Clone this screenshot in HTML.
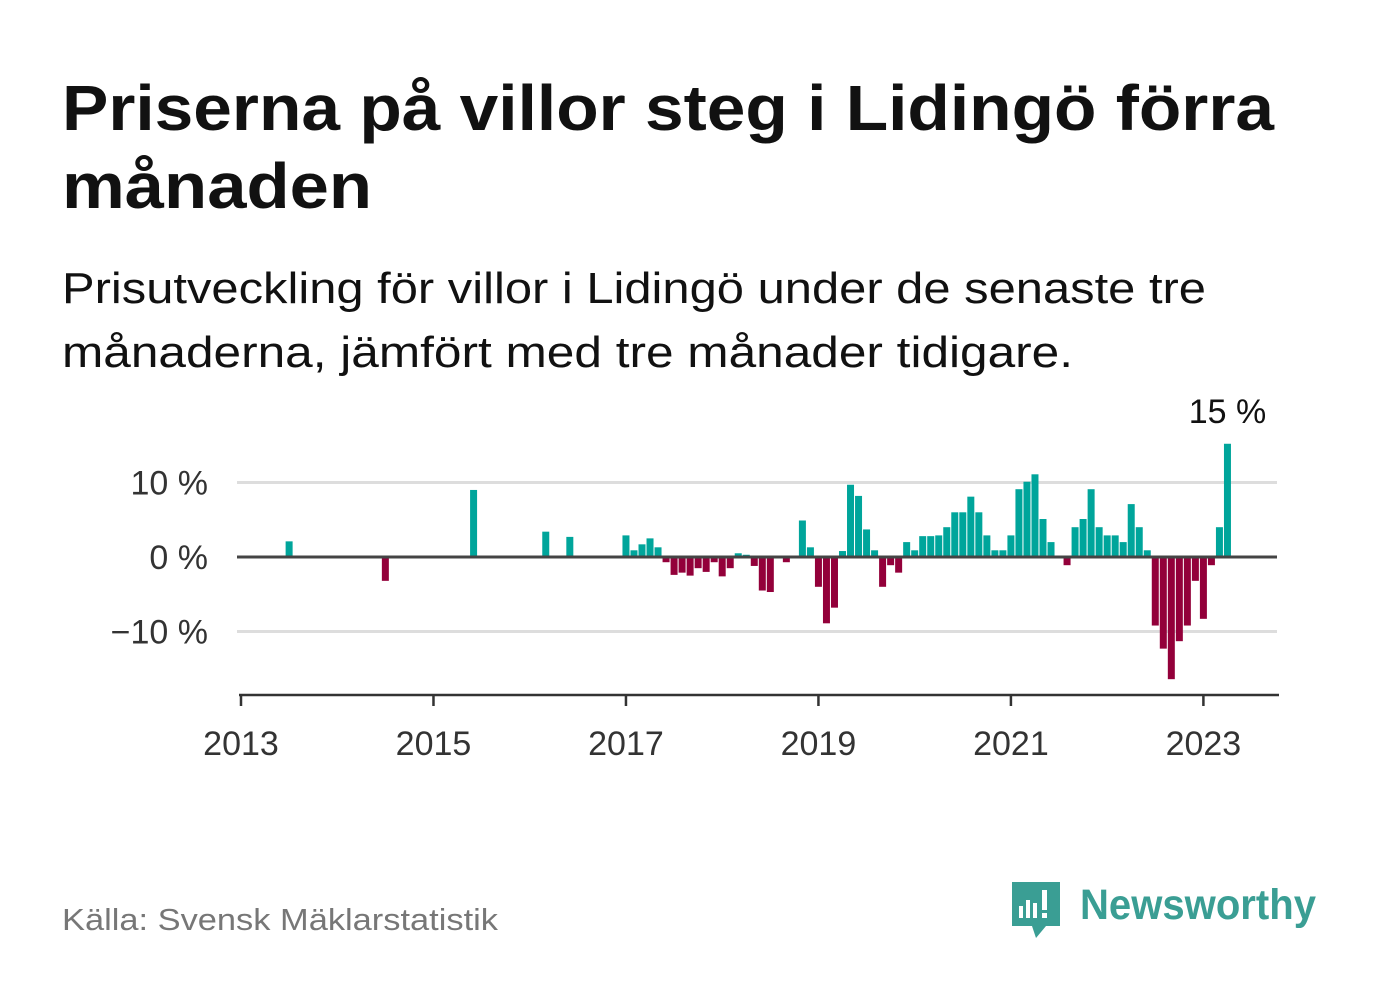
<!DOCTYPE html>
<html><head><meta charset="utf-8"><style>
html,body{margin:0;padding:0;background:#fff;}
svg{display:block;font-family:"Liberation Sans",sans-serif;}
</style></head><body>
<svg id="chart" width="1382" height="999" viewBox="0 0 1382 999">
<text x="62" y="130" font-size="64" font-weight="bold" fill="#111" textLength="1212" lengthAdjust="spacingAndGlyphs">Priserna på villor steg i Lidingö förra</text>
<text x="62" y="208" font-size="64" font-weight="bold" fill="#111" textLength="310" lengthAdjust="spacingAndGlyphs">månaden</text>
<text x="62" y="303" font-size="44" fill="#111" textLength="1144" lengthAdjust="spacingAndGlyphs">Prisutveckling för villor i Lidingö under de senaste tre</text>
<text x="62" y="367" font-size="44" fill="#111" textLength="1011" lengthAdjust="spacingAndGlyphs">månaderna, jämfört med tre månader tidigare.</text>
<g id="grid"></g>
<g id="bars"></g>
<g id="axes"></g>
<text x="62" y="930" font-size="31" fill="#777" textLength="436" lengthAdjust="spacingAndGlyphs">Källa: Svensk Mäklarstatistik</text>
<g>
<path d="M1012 882 h48 v44 h-14 l-10 12 l-4 -12 h-20 z" fill="#3a9e94"/>
<rect x="1019" y="906" width="4" height="12" fill="#fff"/>
<rect x="1026" y="900" width="4" height="18" fill="#fff"/>
<rect x="1033" y="903" width="4" height="15" fill="#fff"/>
<rect x="1042" y="890" width="5" height="20" fill="#fff"/>
<rect x="1042" y="913" width="5" height="5" fill="#fff"/>
<text x="1080" y="919" font-size="43" font-weight="bold" fill="#3a9e94" textLength="236" lengthAdjust="spacingAndGlyphs">Newsworthy</text>
</g>
</svg>
<script>
const months = [6,18,29,38,41,48,49,50,51,52,53,54,55,56,57,58,59,60,61,62,63,64,65,66,68,70,71,72,73,74,75,76,77,78,79,80,81,82,83,84,85,86,87,88,89,90,91,92,93,94,95,96,97,98,99,100,101,103,104,105,106,107,108,109,110,111,112,113,114,115,116,117,118,119,120,121,122,123];
const values = [2.1,-3.2,9.0,3.4,2.7,2.9,0.9,1.7,2.5,1.3,-0.7,-2.4,-2.1,-2.5,-1.5,-2.0,-0.7,-2.6,-1.5,0.5,0.3,-1.2,-4.5,-4.7,-0.7,4.9,1.3,-4.0,-8.9,-6.8,0.8,9.7,8.2,3.7,0.9,-4.0,-1.1,-2.1,2.0,0.9,2.8,2.8,2.9,4.0,6.0,6.0,8.1,6.0,2.9,0.9,0.9,2.9,9.1,10.1,11.1,5.1,2.0,-1.1,4.0,5.1,9.1,4.0,2.9,2.9,2.0,7.1,4.0,0.9,-9.2,-12.3,-16.4,-11.3,-9.2,-3.2,-8.3,-1.1,4.0,15.2];
const yTicks = [10,0,-10];
const yTickLabels = ["10 %","0 %","\u221210 %"];
const xTicks = [2013,2015,2017,2019,2021,2023];
const NS="http://www.w3.org/2000/svg";
const xm = m => 241 + m*8.02;
const xy = yr => xm((yr-2013)*12);
const y = v => 557 - v*7.45;
function mk(t,a,p){const e=document.createElementNS(NS,t);for(const k in a)e.setAttribute(k,a[k]);p.appendChild(e);return e;}
const grid=document.getElementById('grid'),bars=document.getElementById('bars'),axes=document.getElementById('axes');
yTicks.forEach((v,i)=>{
  if(v!==0){const l=mk('line',{x1:237,x2:1277,y1:y(v),y2:y(v),stroke:'#ddd','stroke-width':3},grid);
  
  }
  const t=mk('text',{x:208,y:y(v)+12,'font-size':34,fill:'#333','text-anchor':'end'},grid);
  t.textContent=yTickLabels[i];
  
  
});
months.forEach((m,i)=>{
  const v=values[i];
  const r=mk('rect',{x:xm(m)-3.5,width:7,y:Math.min(y(v),y(0)),height:Math.abs(y(v)-y(0)),fill:v>=0?'#00a59b':'#93003a'},bars);
  
  
});
const last=values[values.length-1];
const lab=mk('text',{x:xm(months[months.length-1]),y:y(last)-21,'font-size':34,fill:'#111','text-anchor':'middle'},bars);
lab.textContent=Math.round(last)+' %';


const z=mk('line',{x1:237,x2:1277,y1:y(0),y2:y(0),stroke:'#444','stroke-width':3},axes);


const xa=mk('line',{x1:239,x2:1279,y1:695,y2:695,stroke:'#333','stroke-width':2.5},axes);


xTicks.forEach(yr=>{
  const tk=mk('line',{x1:xy(yr),x2:xy(yr),y1:695,y2:706,stroke:'#333','stroke-width':2.5},axes);
  
  
  const t=mk('text',{x:xy(yr),y:755,'font-size':34,fill:'#333','text-anchor':'middle'},axes);
  t.textContent=yr;
  
  
});
</script>
</body></html>
